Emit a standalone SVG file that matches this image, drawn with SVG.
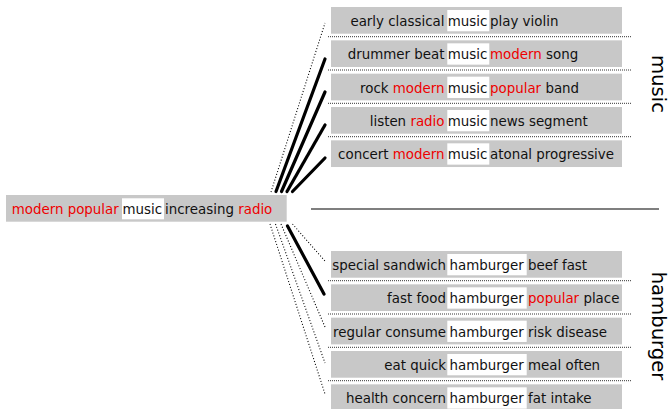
<svg xmlns="http://www.w3.org/2000/svg" width="670" height="409" viewBox="0 0 670 409">
<style>
.box{fill:#c8c8c8}
.hl{fill:#ffffff}
.t{font-family:"DejaVu Sans",sans-serif;font-size:13.4px;fill:#111}
.r{fill:#ee0000}
.e{text-anchor:end}
.lab{font-family:"DejaVu Sans",sans-serif;font-size:19.6px;fill:#000;text-anchor:middle}
.sep{stroke:#333;stroke-width:1;stroke-dasharray:1 1;fill:none}
.dot{stroke:#000;stroke-width:1.1;stroke-dasharray:1 2;fill:none}
.thick{stroke:#000;stroke-width:3.2;stroke-linecap:round;fill:none}
</style>

<g id="connectors">
  <line class="dot" x1="271" y1="192" x2="325" y2="23"/>
  <line class="thick" x1="276" y1="191.5" x2="325" y2="59"/>
  <line class="thick" x1="281.5" y1="191.5" x2="325" y2="92"/>
  <line class="thick" x1="287" y1="191.5" x2="325" y2="125"/>
  <line class="thick" x1="292.5" y1="191.5" x2="325" y2="158"/>
  <line class="dot" x1="292.5" y1="224" x2="325" y2="261"/>
  <line class="thick" x1="287.5" y1="226" x2="324" y2="294"/>
  <line class="dot" x1="281" y1="224" x2="325" y2="327"/>
  <line class="dot" x1="275.5" y1="224" x2="325" y2="363"/>
  <line class="dot" x1="270" y1="224" x2="325" y2="394"/>
  <line x1="311" y1="209" x2="659" y2="209" stroke="#555" stroke-width="1.5"/>
  <g id="separators">
    <line class="sep" x1="328" y1="36.7" x2="631" y2="36.7"/>
    <line class="sep" x1="328" y1="70" x2="631" y2="70"/>
    <line class="sep" x1="328" y1="103.3" x2="631" y2="103.3"/>
    <line class="sep" x1="328" y1="136.7" x2="631" y2="136.7"/>
    <line class="sep" x1="328" y1="280.7" x2="631" y2="280.7"/>
    <line class="sep" x1="328" y1="314" x2="631" y2="314"/>
    <line class="sep" x1="328" y1="347.3" x2="631" y2="347.3"/>
    <line class="sep" x1="328" y1="380.7" x2="631" y2="380.7"/>
  </g>
</g>

<g id="query">
  <rect class="box" x="6" y="195" width="280.7" height="26.7"/>
  <rect class="hl" x="122" y="198.3" width="42" height="21"/>
  <text class="t e r" x="118.8" y="214">modern popular</text>
  <text class="t" x="122.5" y="214">music</text>
  <text class="t" x="165" y="214">increasing <tspan class="r">radio</tspan></text>
</g>

<g id="music1">
  <rect class="box" x="331" y="7" width="291" height="26.7"/>
  <rect class="hl" x="447.3" y="10" width="42" height="21.3"/>
  <text class="t e" x="444.5" y="26">early classical</text>
  <text class="t" x="447.8" y="26">music</text>
  <text class="t" x="490" y="26">play violin</text>
</g>
<g id="music2">
  <rect class="box" x="331" y="40.33" width="291" height="26.7"/>
  <rect class="hl" x="447.3" y="43.33" width="42" height="21.3"/>
  <text class="t e" x="444.5" y="59.33">drummer beat</text>
  <text class="t" x="447.8" y="59.33">music</text>
  <text class="t" x="490" y="59.33"><tspan class="r">modern</tspan> song</text>
</g>
<g id="music3">
  <rect class="box" x="331" y="73.67" width="291" height="26.7"/>
  <rect class="hl" x="447.3" y="76.67" width="42" height="21.3"/>
  <text class="t e" x="444.5" y="92.67">rock <tspan class="r">modern</tspan></text>
  <text class="t" x="447.8" y="92.67">music</text>
  <text class="t" x="490" y="92.67"><tspan class="r">popular</tspan> band</text>
</g>
<g id="music4">
  <rect class="box" x="331" y="107" width="291" height="26.7"/>
  <rect class="hl" x="447.3" y="110" width="42" height="21.3"/>
  <text class="t e" x="444.5" y="126">listen <tspan class="r">radio</tspan></text>
  <text class="t" x="447.8" y="126">music</text>
  <text class="t" x="490" y="126">news segment</text>
</g>
<g id="music5">
  <rect class="box" x="331" y="140.33" width="291" height="26.7"/>
  <rect class="hl" x="447.3" y="143.33" width="42" height="21.3"/>
  <text class="t e" x="444.5" y="159.33">concert <tspan class="r">modern</tspan></text>
  <text class="t" x="447.8" y="159.33">music</text>
  <text class="t" x="490" y="159.33">atonal progressive</text>
</g>

<g id="hamburger1">
  <rect class="box" x="331" y="251" width="291" height="26.7"/>
  <rect class="hl" x="447.3" y="254" width="79.4" height="21.3"/>
  <text class="t e" x="446" y="270">special sandwich</text>
  <text class="t" x="449.5" y="270">hamburger</text>
  <text class="t" x="528" y="270">beef fast</text>
</g>
<g id="hamburger2">
  <rect class="box" x="331" y="284.33" width="291" height="26.7"/>
  <rect class="hl" x="447.3" y="287.33" width="79.4" height="21.3"/>
  <text class="t e" x="446" y="303.33">fast food</text>
  <text class="t" x="449.5" y="303.33">hamburger</text>
  <text class="t" x="528" y="303.33"><tspan class="r">popular</tspan> place</text>
</g>
<g id="hamburger3">
  <rect class="box" x="331" y="317.67" width="291" height="26.7"/>
  <rect class="hl" x="447.3" y="320.67" width="79.4" height="21.3"/>
  <text class="t e" x="446" y="336.67">regular consume</text>
  <text class="t" x="449.5" y="336.67">hamburger</text>
  <text class="t" x="528" y="336.67">risk disease</text>
</g>
<g id="hamburger4">
  <rect class="box" x="331" y="351" width="291" height="26.7"/>
  <rect class="hl" x="447.3" y="354" width="79.4" height="21.3"/>
  <text class="t e" x="446" y="370">eat quick</text>
  <text class="t" x="449.5" y="370">hamburger</text>
  <text class="t" x="528" y="370">meal often</text>
</g>
<g id="hamburger5">
  <rect class="box" x="331" y="384.33" width="291" height="26.7"/>
  <rect class="hl" x="447.3" y="387.33" width="79.4" height="21.3"/>
  <text class="t e" x="446" y="403.33">health concern</text>
  <text class="t" x="449.5" y="403.33">hamburger</text>
  <text class="t" x="528" y="403.33">fat intake</text>
</g>

<g id="label-music">
  <text class="lab" transform="translate(652,84) rotate(90)">music</text>
</g>
<g id="label-hamburger">
  <text class="lab" transform="translate(652,326) rotate(90)">hamburger</text>
</g>
</svg>
